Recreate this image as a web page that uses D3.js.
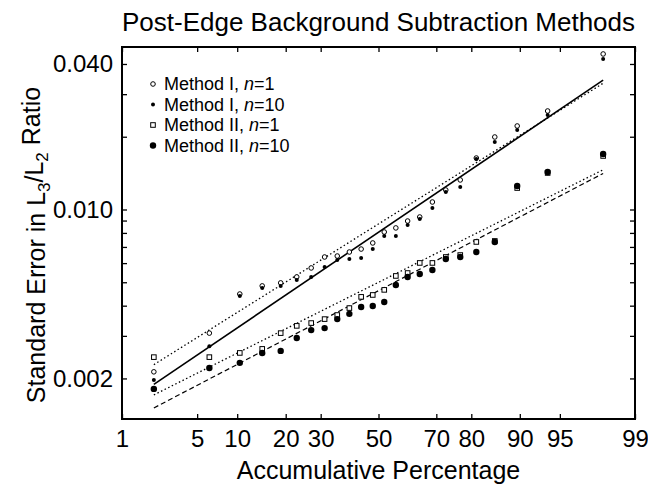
<!DOCTYPE html>
<html>
<head>
<meta charset="utf-8">
<script src="https://cdn.jsdelivr.net/npm/d3@7"></script>
<style>
  body { margin: 0; background: #fff; }
  svg { display: block; font-family: "Liberation Sans", Arial, Helvetica, sans-serif; }
</style>
</head>
<body>
<div id="chart"></div>
<script>
// cumulative percentage of each ranked value (24 runs)
const percentages = [2.08, 6.25, 10.42, 14.58, 18.75, 22.92, 27.08, 31.25, 35.42, 39.58, 43.75, 47.92,
  52.08, 56.25, 60.42, 64.58, 68.75, 72.92, 77.08, 81.25, 85.42, 89.58, 93.75, 97.92];

// standard error values, sorted, one array per method
const methodIn1 = [0.00213, 0.00308, 0.00447, 0.00483, 0.00497, 0.00526, 0.00573, 0.00636, 0.00642, 0.00667, 0.00686, 0.00727,
  0.00807, 0.00839, 0.00896, 0.00931, 0.01074, 0.01204, 0.01325, 0.01633, 0.01995, 0.02216, 0.02556, 0.0440];
const methodIn10 = [0.00197, 0.00272, 0.00439, 0.00473, 0.00483, 0.00511, 0.00526, 0.00578, 0.00618, 0.00624, 0.00630, 0.00686,
  0.00777, 0.00777, 0.00863, 0.00914, 0.01014, 0.01181, 0.01239, 0.01618, 0.01902, 0.02133, 0.02460, 0.04195];
const methodIIn1 = [0.00245, 0.00245, 0.00255, 0.00265, 0.00308, 0.00330, 0.00339, 0.00352, 0.00366, 0.00391, 0.00435, 0.00443,
  0.00465, 0.00531, 0.00546, 0.00601, 0.00601, 0.00636, 0.00648, 0.00734, 0.00741, 0.01227, 0.01416, 0.01665];
const methodIIn10 = [0.00181, 0.00221, 0.00232, 0.00255, 0.00260, 0.00294, 0.00317, 0.00323, 0.00352, 0.00370, 0.00395, 0.00399,
  0.00414, 0.00487, 0.00526, 0.00541, 0.00562, 0.00624, 0.00636, 0.00667, 0.00734, 0.01251, 0.01430, 0.01697];

// fitted lognormal lines, value at first and last percentage
const fitIn1 = [0.00228, 0.0333];
const fitIn10 = [0.00189, 0.0343];
const fitIIn1 = [0.00171, 0.0146];
const fitIIn10 = [0.00151, 0.0141];

const legendLabels = ["Method I, ", "Method I, ", "Method II, ", "Method II, "];
const legendN = ["1", "10", "1", "10"];

const xTicks = [1, 5, 10, 20, 30, 50, 70, 80, 90, 95, 99];
const yTicks = [0.002, 0.003, 0.004, 0.005, 0.006, 0.007, 0.008, 0.009, 0.01, 0.02, 0.03, 0.04];
const yLabeled = [0.002, 0.01, 0.04];

// inverse normal cdf (Acklam)
const probit = p => {
  const a = [-39.69683028665376, 220.9460984245205, -275.9285104469687, 138.3577518672690, -30.66479806614716, 2.506628277459239];
  const b = [-54.47609879822406, 161.5858368580409, -155.6989798598866, 66.80131188771972, -13.28068155288572];
  const c = [-0.007784894002430293, -0.3223964580411365, -2.400758277161838, -2.549732539343734, 4.374664141464968, 2.938163982698783];
  const d = [0.007784695709041462, 0.3224671290700398, 2.445134137142996, 3.754408661907416];
  const plow = 0.02425;
  if (p < plow) {
    const q = Math.sqrt(-2 * Math.log(p));
    return (((((c[0]*q+c[1])*q+c[2])*q+c[3])*q+c[4])*q+c[5]) / ((((d[0]*q+d[1])*q+d[2])*q+d[3])*q+1);
  }
  if (p > 1 - plow) return -probit(1 - p);
  const q = p - 0.5, r = q * q;
  return (((((a[0]*r+a[1])*r+a[2])*r+a[3])*r+a[4])*r+a[5])*q / (((((b[0]*r+b[1])*r+b[2])*r+b[3])*r+b[4])*r+1);
};

const W = 648, H = 486;
const plotLeft = 122, plotRight = 635, plotTop = 47, plotBottom = 419;

const svg = d3.select("#chart").append("svg")
  .attr("width", W).attr("height", H);

// x: normal probability scale, built on z values
const xz = d3.scaleLinear().domain([probit(0.01), probit(0.99)]).range([plotLeft, plotRight]);
const x = pct => xz(probit(pct / 100));
const y = d3.scaleLog().domain([0.001359, 0.04702]).range([plotBottom, plotTop]);

// axes (ticks point inward)
svg.append("g")
  .attr("transform", `translate(0,${plotBottom})`)
  .call(d3.axisBottom(xz)
    .tickValues(xTicks.map(p => probit(p / 100)))
    .tickFormat((d, i) => xTicks[i])
    .tickSizeInner(-5).tickSizeOuter(0).tickPadding(11))
  .call(g => g.select(".domain").remove())
  .call(g => g.selectAll("text").style("font-size", "24px").attr("fill", "#000"));

svg.append("g")
  .attr("transform", `translate(0,${plotTop})`)
  .call(d3.axisTop(xz)
    .tickValues(xTicks.map(p => probit(p / 100)))
    .tickFormat("")
    .tickSizeInner(-5).tickSizeOuter(0))
  .call(g => g.select(".domain").remove());

svg.append("g")
  .attr("transform", `translate(${plotLeft},0)`)
  .call(d3.axisLeft(y)
    .tickValues(yTicks)
    .tickFormat(d => yLabeled.includes(d) ? d3.format(".3f")(d) : "")
    .tickSizeInner(-5).tickSizeOuter(0).tickPadding(9))
  .call(g => g.select(".domain").remove())
  .call(g => g.selectAll("text").style("font-size", "24px").attr("fill", "#000"));

svg.append("g")
  .attr("transform", `translate(${plotRight},0)`)
  .call(d3.axisRight(y)
    .tickValues(yTicks)
    .tickFormat("")
    .tickSizeInner(-5).tickSizeOuter(0))
  .call(g => g.select(".domain").remove());

svg.selectAll(".tick line").attr("stroke", "#000").attr("stroke-width", 1.3);

// frame
svg.append("rect")
  .attr("x", plotLeft).attr("y", plotTop)
  .attr("width", plotRight - plotLeft).attr("height", plotBottom - plotTop)
  .attr("fill", "none").attr("stroke", "#000").attr("stroke-width", 2);

// fit lines
const line = d3.line().x(d => x(d.p)).y(d => y(d.v));
const ends = [percentages[0], percentages[percentages.length - 1]];
const fits = [
  { v: fitIn1, dash: "1.5,2.5", w: 1.3 },
  { v: fitIn10, dash: null, w: 1.6 },
  { v: fitIIn1, dash: "1.5,2.5", w: 1.3 },
  { v: fitIIn10, dash: "5,3", w: 1.2 }
];
svg.append("g").selectAll("path")
  .data(fits)
  .join("path")
  .attr("d", f => line(ends.map((p, i) => ({ p, v: f.v[i] }))))
  .attr("fill", "none")
  .attr("stroke", "#000")
  .attr("stroke-width", f => f.w)
  .attr("stroke-dasharray", f => f.dash);

// markers
const drawMarker = (sel, kind) => {
  if (kind === 0) sel.append("circle").attr("r", 2.3).attr("fill", "#fff").attr("stroke", "#000").attr("stroke-width", 1);
  if (kind === 1) sel.append("circle").attr("r", 2).attr("fill", "#000");
  if (kind === 2) sel.append("rect").attr("x", -2.3).attr("y", -2.3).attr("width", 4.6).attr("height", 4.6)
    .attr("fill", "#fff").attr("stroke", "#000").attr("stroke-width", 1);
  if (kind === 3) sel.append("circle").attr("r", 3.2).attr("fill", "#000");
};

const series = [methodIn1, methodIIn1, methodIn10, methodIIn10];
const kinds = [0, 2, 1, 3];
series.forEach((vals, s) => {
  svg.append("g").selectAll("g")
    .data(vals)
    .join("g")
    .attr("transform", (v, i) => `translate(${x(percentages[i])},${y(v)})`)
    .each(function () { drawMarker(d3.select(this), kinds[s]); });
});

// legend
const legend = svg.append("g");
legendLabels.forEach((lab, i) => {
  const row = legend.append("g").attr("transform", `translate(153,${84 + i * 20.5})`);
  drawMarker(row, i);
  const t = row.append("text").attr("x", 11).attr("dy", "0.36em").style("font-size", "18px");
  t.append("tspan").text(lab);
  t.append("tspan").style("font-style", "italic").text("n");
  t.append("tspan").text("=" + legendN[i]);
});

// titles
svg.append("text")
  .attr("x", (plotLeft + plotRight) / 2).attr("y", 31)
  .attr("text-anchor", "middle").style("font-size", "26px")
  .text("Post-Edge Background Subtraction Methods");

svg.append("text")
  .attr("x", (plotLeft + plotRight) / 2).attr("y", 479)
  .attr("text-anchor", "middle").style("font-size", "25px")
  .text("Accumulative Percentage");

const yTitle = svg.append("text")
  .attr("transform", `translate(45,${(plotTop + plotBottom) / 2 + 12}) rotate(-90)`)
  .attr("text-anchor", "middle").style("font-size", "25px");
yTitle.append("tspan").text("Standard Error in L");
yTitle.append("tspan").attr("dy", "0.3em").style("font-size", "17px").text("3");
yTitle.append("tspan").attr("dy", "-0.3em").text("/L");
yTitle.append("tspan").attr("dy", "0.3em").style("font-size", "17px").text("2");
yTitle.append("tspan").attr("dy", "-0.3em").text(" Ratio");
</script>
</body>
</html>
